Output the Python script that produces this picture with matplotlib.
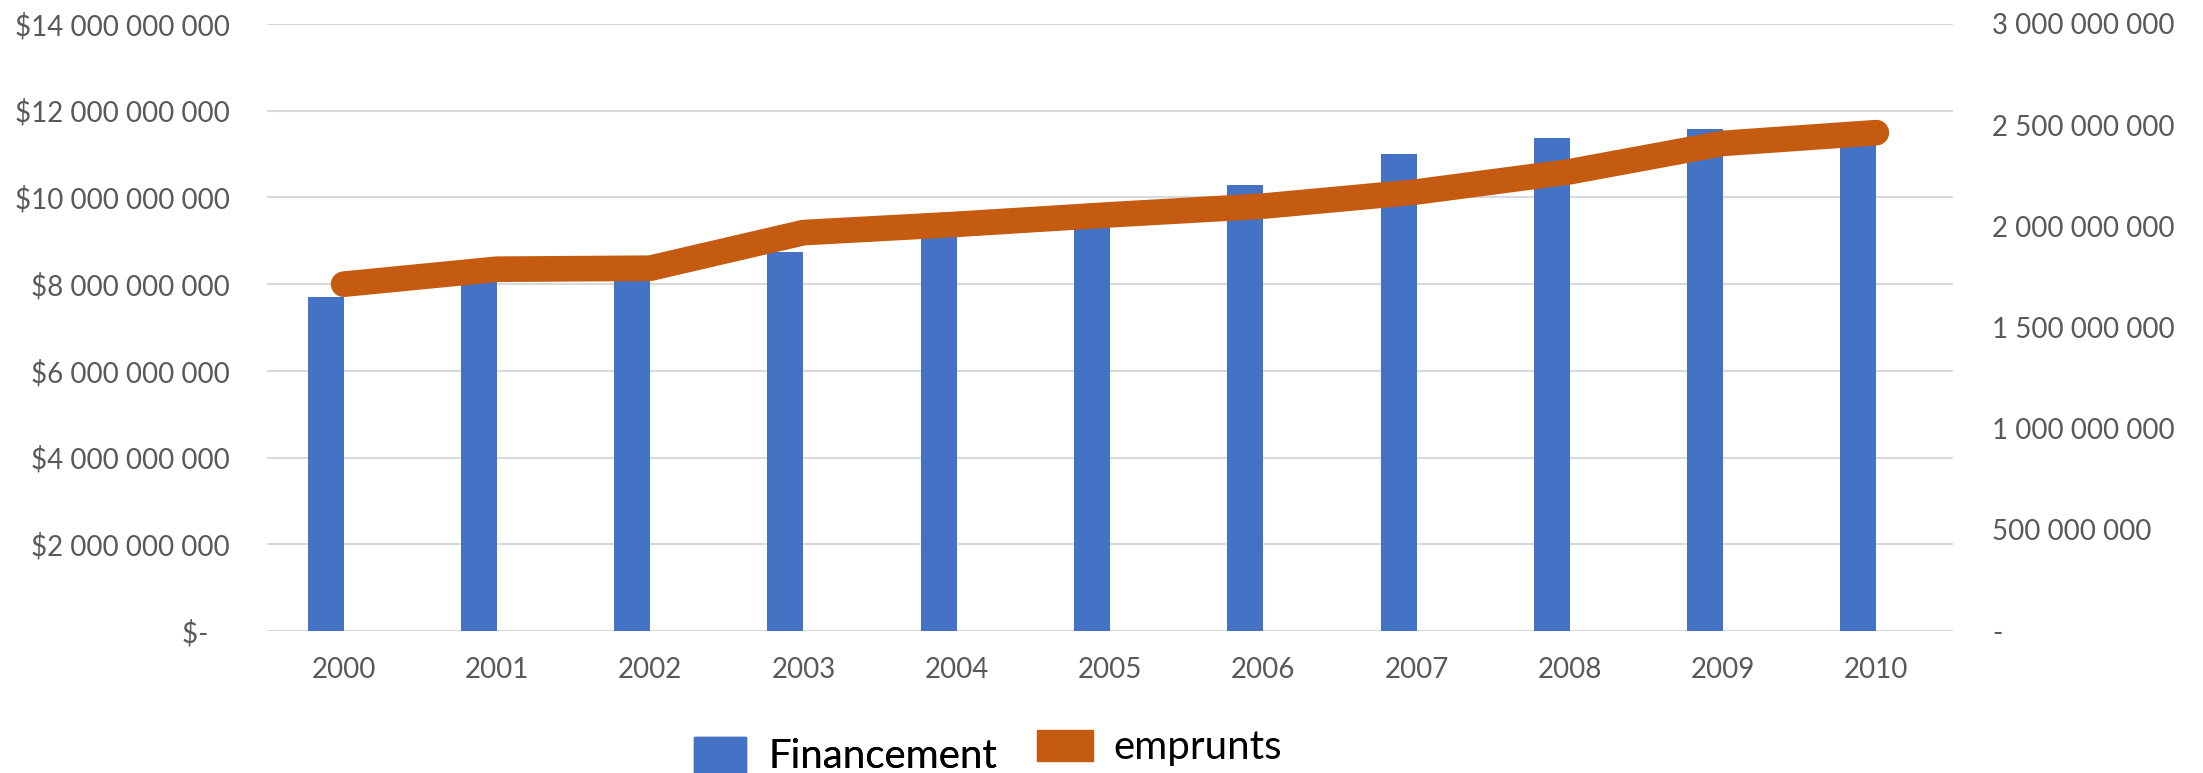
import matplotlib.pyplot as plt
from matplotlib.patches import Patch

years = ['2000', '2001', '2002', '2003', '2004', '2005', '2006', '2007', '2008', '2009', '2010']
financement = [7.70e9, 8.20e9, 8.30e9, 8.75e9, 9.20e9, 9.55e9, 10.29e9, 11.00e9, 11.38e9, 11.57e9, 11.60e9]
emprunts = [1.714e9, 1.788e9, 1.793e9, 1.969e9, 2.010e9, 2.057e9, 2.100e9, 2.170e9, 2.270e9, 2.410e9, 2.463e9]

left_ticks = [0, 2e9, 4e9, 6e9, 8e9, 10e9, 12e9, 14e9]
right_ticks = [0, 0.5e9, 1.0e9, 1.5e9, 2.0e9, 2.5e9, 3.0e9]

blue = '#4472C4'
orange = '#C55A11'
grey = '#595959'

plt.rcParams['font.family'] = ['Lato', 'DejaVu Sans']


def spaced(v):
    return f'{int(v):,}'.replace(',', ' ')


fig = plt.figure(figsize=(22.03, 7.73), dpi=100)
ax = fig.add_axes([267 / 2203, 1 - 631 / 773, (1953 - 267) / 2203, (631 - 24) / 773])

x = list(range(len(years)))
w = 0.235
ax.bar([i - w / 2 for i in x], financement, width=w, color=blue, zorder=2)

ax.set_xlim(-0.5, len(years) - 0.5)
ax.set_ylim(0, 14e9)
ax.set_yticks(left_ticks)
ax.set_yticklabels(['$-   ' if v == 0 else '$' + spaced(v) for v in left_ticks])
ax.set_xticks(x)
ax.set_xticklabels(years)
ax.grid(axis='y', color='#D9D9D9', linewidth=1.5, zorder=0)
ax.set_axisbelow(True)
for s in ax.spines.values():
    s.set_visible(False)
ax.tick_params(axis='y', length=0, pad=27, labelsize=20, labelcolor=grey)
ax.tick_params(axis='x', length=0, pad=19, labelsize=20, labelcolor=grey)

ax2 = ax.twinx()
ax2.plot(x, emprunts, color=orange, linewidth=18.5, solid_capstyle='round',
         solid_joinstyle='round', zorder=3)
ax2.set_ylim(0, 3e9)
ax2.set_yticks(right_ticks)
ax2.set_yticklabels(['-' if v == 0 else spaced(v) for v in right_ticks])
for s in ax2.spines.values():
    s.set_visible(False)
ax2.tick_params(axis='y', length=0, pad=28, labelsize=20, labelcolor=grey)

# legend (two entries sit at slightly different heights in the original)
leg1 = fig.legend(handles=[Patch(color=blue, label='Financement')], loc='center left',
                  bbox_to_anchor=(694 / 2203, 1 - 756 / 773), frameon=False, fontsize=29,
                  borderpad=0, borderaxespad=0, handlelength=1.3, handleheight=1.0,
                  handletextpad=0.55)
fig.legend(handles=[Patch(color=orange, label='emprunts')], loc='center left',
           bbox_to_anchor=(1037 / 2203, 1 - 748 / 773), frameon=False, fontsize=29,
           borderpad=0, borderaxespad=0, handlelength=1.4, handleheight=0.8,
           handletextpad=0.5)
fig.add_artist(leg1)

fig.savefig('out.png', dpi=100)
